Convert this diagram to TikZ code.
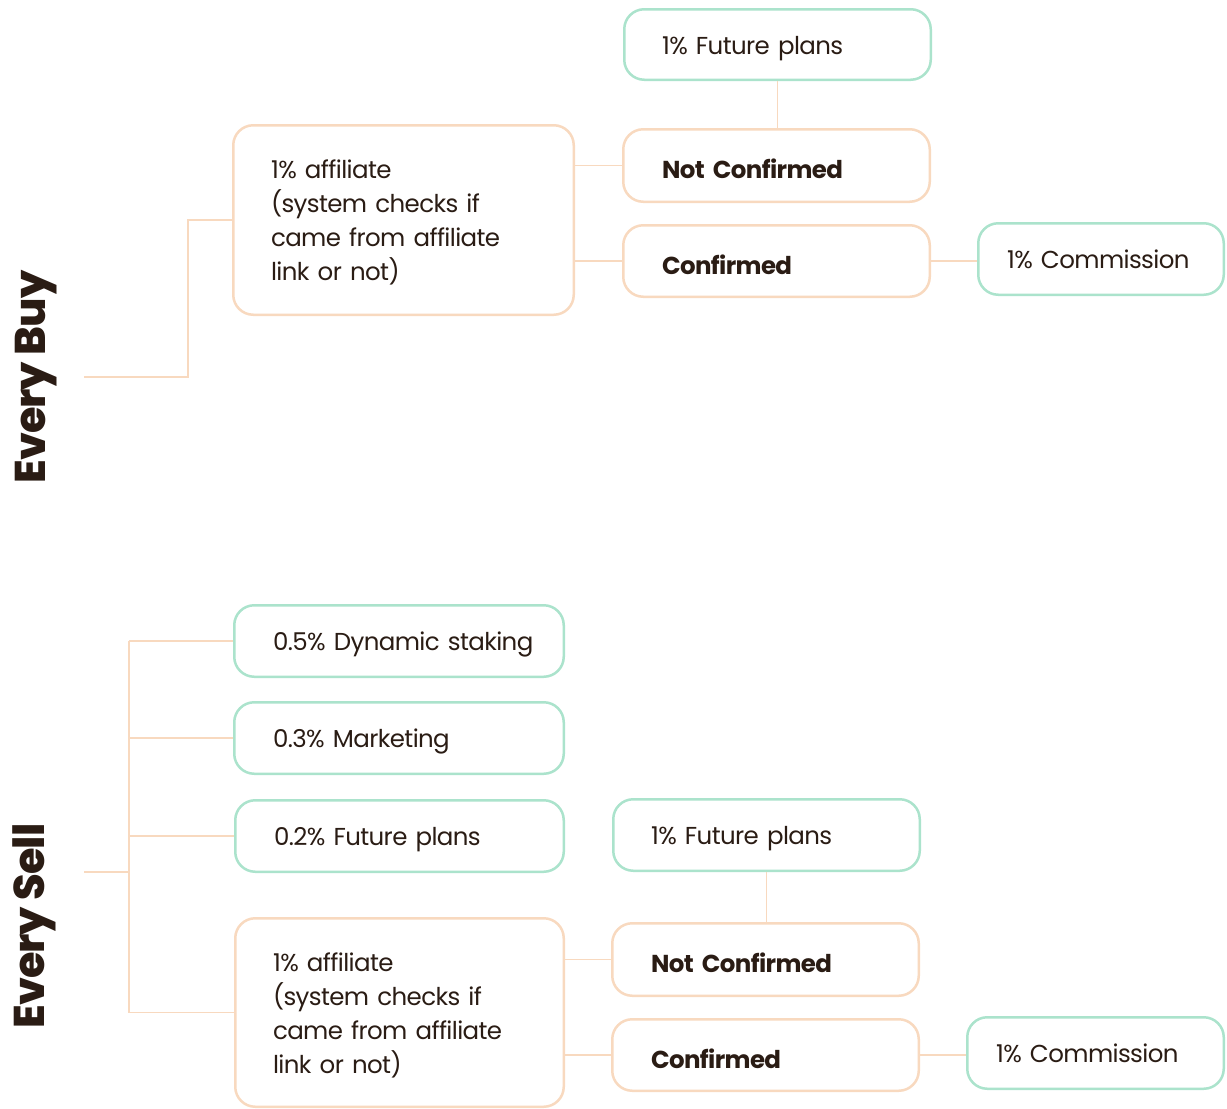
\documentclass[tikz,border=0pt]{standalone}
\usepackage{fontspec}
\setmainfont{Poppins}[LetterSpace=-2.5]
\newfontfamily\xbold{Poppins ExtraBold}[LetterSpace=-2.5]
\definecolor{mint}{HTML}{ABE3CC}
\definecolor{peach}{HTML}{F8D9BF}
\definecolor{ink}{HTML}{2A1C14}
\newcommand{\firststrut}{\rule{0pt}{24pt}}
\begin{document}
\begin{tikzpicture}[x=1pt,y=-1pt,
  box/.style={rounded corners=20pt, line width=2.5pt, fill=white, align=left,
    inner xsep=0pt, inner ysep=0pt, text=ink, font=\fontsize{24.5}{34}\selectfont},
  gbox/.style={box, draw=mint, text height=19pt, text depth=0pt},
  obox/.style={box, draw=peach, text height=26pt, text depth=0pt, font=\fontsize{24.5}{34}\selectfont\bfseries},
  abox/.style={box, draw=peach},
  wire/.style={draw=peach, line width=1.2pt},
  side/.style={rotate=90, text=ink, font=\fontsize{43}{50}\selectfont\xbold}]
\useasboundingbox (0,0) rectangle (1227,1109);

% ---------- Every Buy ----------
\node[side] (buy) at (36,377) {Every Buy};
\coordinate (buyroot) at (84,377);
\node[abox, minimum width=340.5pt, minimum height=189.5pt, text width=265pt] (aff1) at (403.5,220)
  {\firststrut\mbox{1\% affiliate}\\\mbox{(system checks if}\\\mbox{came from affiliate}\\\mbox{link or not)}};
\node[gbox, minimum width=306.5pt, minimum height=70.5pt, text width=231pt] (fp1) at (777.5,44.5) {\mbox{1\% Future plans}};
\node[obox, minimum width=306.5pt, minimum height=72.5pt, text width=229pt] (nc1) at (776.5,165.5) {\mbox{Not Confirmed}};
\node[obox, minimum width=306.5pt, minimum height=71.5pt, text width=229pt] (c1) at (776.5,261) {\mbox{Confirmed}};
\node[gbox, minimum width=245.5pt, minimum height=71.5pt, text width=188pt] (comm1) at (1101,259) {\mbox{1\% Commission}};

\draw[wire] (buyroot) -- ++(104,0) |- (aff1.west);
\draw[wire] (nc1.west) -- (nc1.west -| aff1.east);
\draw[wire] (c1.west) -- (c1.west -| aff1.east);
\draw[wire] (fp1.south) -- (fp1.south |- nc1.north);
\draw[wire] (c1.east) -- (c1.east -| comm1.west);

% ---------- Every Sell ----------
\node[side] (sell) at (34,926) {Every Sell};
\coordinate (sellroot) at (84,872);
\coordinate (trunk) at (129,872);
\node[gbox, minimum width=329.5pt, minimum height=71.5pt, text width=252pt] (ds) at (399,641) {\mbox{0.5\% Dynamic staking}};
\node[gbox, minimum width=329.5pt, minimum height=71.5pt, text width=252pt] (mk) at (399,738) {\mbox{0.3\% Marketing}};
\node[gbox, minimum width=328.5pt, minimum height=71.5pt, text width=251pt] (fp02) at (399.5,836) {\mbox{0.2\% Future plans}};
\node[abox, minimum width=328.5pt, minimum height=188.5pt, text width=253pt] (aff2) at (399.5,1012.5)
  {\firststrut\mbox{1\% affiliate}\\\mbox{(system checks if}\\\mbox{came from affiliate}\\\mbox{link or not)}};
\node[gbox, minimum width=306.5pt, minimum height=71.5pt, text width=231pt] (fp2) at (766.5,835) {\mbox{1\% Future plans}};
\node[obox, minimum width=306.5pt, minimum height=72.5pt, text width=229pt] (nc2) at (765.5,959.5) {\mbox{Not Confirmed}};
\node[obox, minimum width=306.5pt, minimum height=71.5pt, text width=229pt] (c2) at (765.5,1055) {\mbox{Confirmed}};
\node[gbox, minimum width=256.5pt, minimum height=71.5pt, text width=199pt] (comm2) at (1095.5,1053) {\mbox{1\% Commission}};

\draw[wire] (sellroot) -- (trunk);
\draw[wire] (trunk |- ds.west) -- (trunk |- aff2.west);
\draw[wire] (trunk |- ds.west) -- (ds.west);
\draw[wire] (trunk |- mk.west) -- (mk.west);
\draw[wire] (trunk |- fp02.west) -- (fp02.west);
\draw[wire] (trunk |- aff2.west) -- (aff2.west);
\draw[wire] (nc2.west) -- (nc2.west -| aff2.east);
\draw[wire] (c2.west) -- (c2.west -| aff2.east);
\draw[wire] (fp2.south) -- (fp2.south |- nc2.north);
\draw[wire] (c2.east) -- (c2.east -| comm2.west);
\end{tikzpicture}
\end{document}
